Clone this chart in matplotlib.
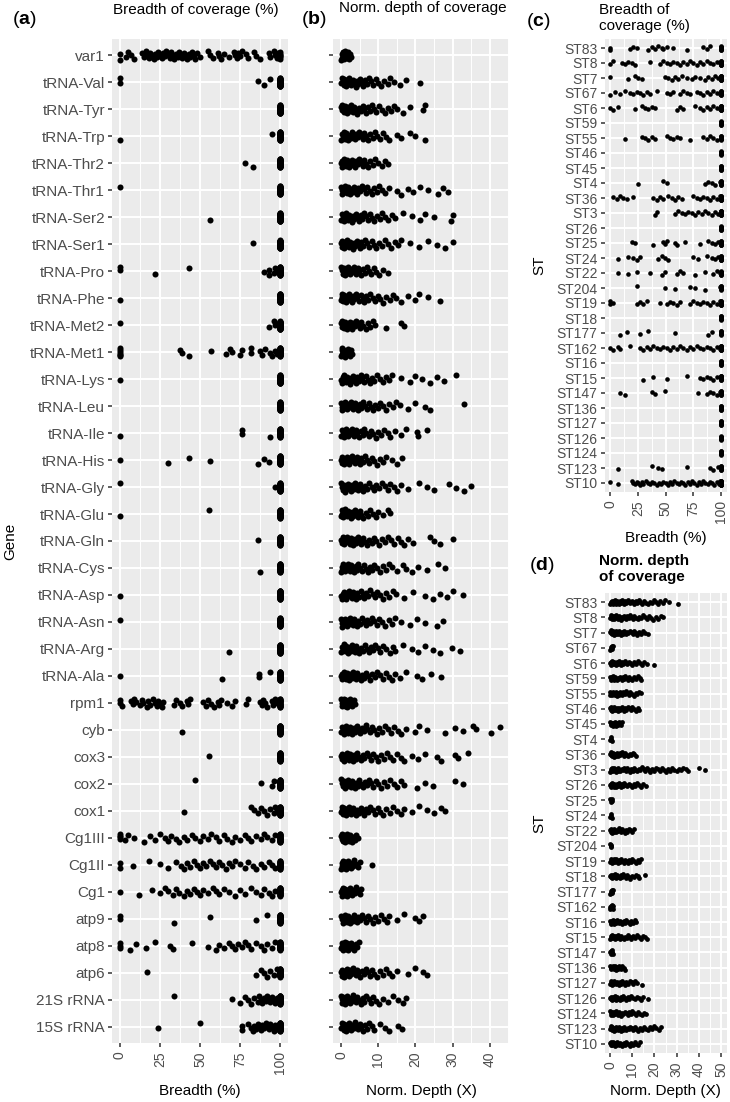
import matplotlib
matplotlib.use("Agg")
import matplotlib.pyplot as plt
from matplotlib.ticker import MultipleLocator
import numpy as np

plt.rcParams['font.family'] = ['Liberation Sans', 'DejaVu Sans']
plt.rcParams['mathtext.fontset'] = 'custom'
plt.rcParams['mathtext.rm'] = 'Liberation Sans'
plt.rcParams['mathtext.bf'] = 'Liberation Sans:bold'

# ---- data -------------------------------------------------------------
genes = ["var1", "tRNA-Val", "tRNA-Tyr", "tRNA-Trp", "tRNA-Thr2", "tRNA-Thr1",
         "tRNA-Ser2", "tRNA-Ser1", "tRNA-Pro", "tRNA-Phe", "tRNA-Met2",
         "tRNA-Met1", "tRNA-Lys", "tRNA-Leu", "tRNA-Ile", "tRNA-His",
         "tRNA-Gly", "tRNA-Glu", "tRNA-Gln", "tRNA-Cys", "tRNA-Asp",
         "tRNA-Asn", "tRNA-Arg", "tRNA-Ala", "rpm1", "cyb", "cox3", "cox2",
         "cox1", "Cg1III", "Cg1II", "Cg1", "atp9", "atp8", "atp6",
         "21S rRNA", "15S rRNA"]

# breadth (%) of isolates below full coverage, per gene
breadth_gene = [
    [0, 0, 3.7, 5, 7, 9, 13.5, 15, 16, 17, 18, 19, 20, 21, 22, 23, 24, 25, 26, 27,
     28, 29, 30, 31, 32, 33, 34, 35, 36, 37, 38, 39, 40, 41, 42, 43, 44, 45, 46,
     47, 48, 50, 55, 56, 58, 61, 62, 63, 65, 68, 71, 72, 73, 74, 75, 76, 79, 80,
     84, 85, 87.5, 93, 94, 96, 97, 98, 99],
    [0, 0, 86, 90, 94],
    [],
    [0, 95],
    [78, 83],
    [0],
    [56],
    [83],
    [0, 0, 22, 43, 90, 93, 93, 96, 97, 98],
    [0],
    [0, 93, 96, 97],
    [0, 0, 0, 0, 0, 0, 37.5, 38.5, 43, 57, 66, 69, 70, 75, 76.5, 82, 82, 87.5,
     88.5, 90.6, 94, 95, 97, 98],
    [0],
    [],
    [0, 76.5, 76.5, 94],
    [0, 30, 43, 56, 86, 90, 93],
    [0, 97],
    [0, 55.6],
    [86],
    [87.5],
    [0],
    [0],
    [68],
    [0, 64, 87, 87, 94],
    [0, 0, 1, 7, 8, 9, 10, 12.5, 13.5, 14.6, 16.7, 17.7, 18.8, 20.8, 21.9, 22.9,
     24, 25, 26, 27, 34, 35, 37.5, 38.5, 41.7, 42.7, 43.8, 52, 54, 55, 57, 59,
     61, 62, 63, 66.7, 70, 72, 79, 80, 87.5, 88.5, 89.6, 90.6, 91.7, 94.8, 95.8,
     96.9, 97.9],
    [39],
    [55.6],
    [47, 88, 95, 96],
    [40, 82, 84, 86, 88, 90, 92, 94, 96, 97, 98],
    [0, 0, 0, 0, 3, 5, 9, 15, 19, 22, 25, 28, 30, 32, 35, 37, 40, 42, 45, 47, 50,
     52, 55, 57, 60, 62, 65, 67, 70, 72, 75, 78, 80, 82, 85, 88, 90, 92, 95, 97],
    [0, 0, 8, 18, 25, 30, 35, 38, 40, 42, 44, 46, 48, 50, 52, 54, 56, 58, 60, 62,
     64, 66, 68, 70, 72, 75, 78, 80, 83, 85, 88, 90, 93, 95, 97],
    [0, 12, 20, 25, 28, 30, 33, 35, 37, 40, 42, 44, 46, 48, 50, 52, 55, 58, 60,
     62, 65, 68, 72, 75, 78, 82, 85, 88, 90, 93, 95, 97],
    [0, 0, 34, 56, 85, 92],
    [0, 0, 0, 6, 10, 16, 22, 31, 33, 45, 55, 60, 62, 65, 68, 70, 72, 74, 76, 78,
     80, 82, 85, 88, 90, 92, 95, 97],
    [17, 85, 88, 90, 92, 94, 96, 98],
    [34, 70, 75, 78, 80, 82, 84, 86, 87, 88, 89, 90, 91, 92, 93, 94, 95, 96, 97, 98],
    [24, 50, 76, 76, 80, 82, 83, 84, 85, 86, 87, 88, 89, 90, 91, 92, 93, 94, 95,
     96, 97, 98],
]
# isolates with 100 % breadth, per gene
full_gene = [6, 30, 30, 30, 30, 30, 30, 30, 30, 30, 30, 30, 30, 30, 30, 30, 30,
             30, 30, 30, 30, 30, 30, 30, 20, 30, 30, 30, 30, 20, 20, 20, 30, 25,
             30, 30, 30]

# normalised depth (X), per gene
depth_gene = [
    [0.1, 0.2, 0.3, 0.5, 0.6, 0.8, 0.9, 1.1, 1.2, 1.4, 1.6, 1.8, 2.0, 2.2, 2.5, 2.8],
    [0.1, 0.3, 0.5, 0.7, 0.9, 1.1, 1.4, 1.6, 1.9, 2.2, 2.5, 2.8, 3.1, 3.5, 3.9, 4.3,
     4.7, 5.1, 5.6, 6.0, 6.5, 7.0, 7.6, 8.1, 8.7, 9.3, 10.0, 10.8, 11.6, 12.5, 13.3,
     14.3, 15.8, 17.6, 21.2],
    [0.1, 0.2, 0.4, 0.6, 0.9, 1.1, 1.4, 1.7, 2.0, 2.3, 2.6, 2.9, 3.3, 3.6, 4.0, 4.4,
     4.9, 5.3, 5.8, 6.2, 6.7, 7.2, 7.8, 8.3, 8.9, 9.5, 10.2, 10.9, 11.7, 12.5, 13.4,
     14.2, 15.1, 16.7, 18.5, 22.0, 22.6],
    [0.1, 0.3, 0.5, 0.7, 0.9, 1.2, 1.4, 1.7, 2.0, 2.3, 2.6, 3.0, 3.3, 3.7, 4.1, 4.5,
     4.9, 5.4, 5.8, 6.3, 6.8, 7.3, 7.9, 8.5, 9.1, 9.8, 10.5, 11.2, 12.0, 12.9, 15.0,
     16.1, 18.5, 20.0, 22.5],
    [0.1, 0.3, 0.4, 0.6, 0.8, 1.0, 1.3, 1.5, 1.8, 2.1, 2.4, 2.7, 3.0, 3.4, 3.7, 4.1,
     4.5, 4.9, 5.4, 5.8, 6.3, 6.8, 7.3, 7.9, 8.5, 9.2, 10.0, 10.9, 11.8, 12.7],
    [0.1, 0.2, 0.4, 0.6, 0.8, 1.1, 1.3, 1.6, 1.9, 2.2, 2.5, 2.8, 3.2, 3.5, 3.9, 4.3,
     4.7, 5.2, 5.6, 6.1, 6.6, 7.1, 7.7, 8.3, 8.9, 9.6, 10.3, 11.1, 11.9, 12.8, 15.0,
     16.0, 18.0, 19.4, 21.2, 23.4, 26.0, 27.5, 28.8],
    [0.1, 0.3, 0.5, 0.7, 0.9, 1.1, 1.4, 1.7, 1.9, 2.2, 2.6, 2.9, 3.2, 3.6, 4.0, 4.4,
     4.8, 5.3, 5.7, 6.2, 6.7, 7.2, 7.8, 8.4, 9.0, 9.7, 10.4, 11.1, 11.9, 12.7, 13.6,
     14.4, 16.7, 19.0, 21.2, 22.5, 25.0, 29.6, 30.1],
    [0.1, 0.2, 0.4, 0.6, 0.8, 1.0, 1.3, 1.5, 1.8, 2.1, 2.4, 2.7, 3.1, 3.4, 3.8, 4.2,
     4.6, 5.1, 5.5, 6.0, 6.5, 7.1, 7.6, 8.2, 8.8, 9.5, 10.2, 11.0, 11.8, 12.6, 13.5,
     14.4, 15.2, 16.0, 18.5, 21.0, 23.4, 25.7, 28.0, 30.0],
    [0.1, 0.3, 0.5, 0.7, 0.9, 1.1, 1.3, 1.6, 1.8, 2.1, 2.4, 2.7, 3.0, 3.4, 3.7, 4.1,
     4.5, 4.9, 5.4, 5.9, 6.4, 6.9, 7.5, 8.1, 8.8, 9.5, 10.3, 11.4, 12.7],
    [0.1, 0.3, 0.4, 0.6, 0.8, 1.1, 1.3, 1.6, 1.9, 2.2, 2.5, 2.9, 3.2, 3.6, 4.0, 4.4,
     4.8, 5.3, 5.8, 6.3, 6.8, 7.3, 7.9, 8.5, 9.2, 9.9, 10.6, 11.4, 12.2, 13.1, 14.0,
     14.9, 16.0, 18.0, 20.0, 21.0, 23.4, 26.6],
    [0.1, 0.2, 0.4, 0.6, 0.8, 1.0, 1.2, 1.5, 1.7, 2.0, 2.3, 2.6, 2.9, 3.3, 3.7, 4.1,
     4.5, 5.0, 5.5, 6.0, 6.6, 7.2, 7.9, 8.6, 9.2, 12.0, 16.0, 17.0],
    [0.1, 0.2, 0.3, 0.4, 0.6, 0.7, 0.9, 1.0, 1.2, 1.4, 1.6, 1.8, 2.0, 2.3, 2.6, 2.9],
    [0.1, 0.3, 0.5, 0.7, 0.9, 1.2, 1.4, 1.7, 2.0, 2.3, 2.6, 2.9, 3.3, 3.6, 4.0, 4.4,
     4.8, 5.3, 5.7, 6.2, 6.7, 7.2, 7.8, 8.4, 9.0, 9.7, 10.4, 11.2, 12.0, 12.9, 13.8,
     16.0, 18.5, 20.0, 21.7, 24.0, 25.7, 27.7, 31.0],
    [0.1, 0.2, 0.4, 0.6, 0.9, 1.1, 1.4, 1.7, 2.0, 2.3, 2.6, 3.0, 3.3, 3.7, 4.1, 4.5,
     5.0, 5.4, 5.9, 6.4, 6.9, 7.4, 8.0, 8.6, 9.2, 9.9, 10.6, 11.4, 12.2, 13.0, 13.9,
     14.8, 15.8, 18.0, 20.0, 22.5, 24.0, 33.0],
    [0.1, 0.3, 0.5, 0.7, 0.9, 1.1, 1.4, 1.6, 1.9, 2.2, 2.5, 2.9, 3.2, 3.6, 4.0, 4.4,
     4.9, 5.3, 5.8, 6.3, 6.8, 7.4, 8.0, 8.6, 9.3, 10.0, 10.8, 11.6, 12.5, 13.3, 14.5,
     16.0, 17.6, 20.3, 20.8, 23.0],
    [0.1, 0.2, 0.4, 0.6, 0.8, 1.0, 1.3, 1.5, 1.8, 2.1, 2.4, 2.7, 3.0, 3.4, 3.8, 4.2,
     4.6, 5.0, 5.5, 6.0, 6.5, 7.0, 7.6, 8.2, 8.9, 9.6, 10.4, 11.2, 12.0, 13.6, 15.0,
     16.3],
    [0.1, 0.3, 0.5, 0.7, 0.9, 1.2, 1.4, 1.7, 2.0, 2.3, 2.7, 3.0, 3.4, 3.8, 4.2, 4.6,
     5.1, 5.5, 6.0, 6.5, 7.1, 7.6, 8.2, 8.8, 9.5, 10.2, 10.9, 11.7, 12.5, 13.3, 14.2,
     15.1, 16.0, 18.0, 21.0, 23.0, 25.0, 29.0, 31.0, 33.0, 35.0],
    [0.1, 0.2, 0.4, 0.6, 0.8, 1.0, 1.2, 1.5, 1.7, 2.0, 2.3, 2.6, 3.0, 3.3, 3.7, 4.1,
     4.5, 5.0, 5.5, 6.0, 6.6, 7.2, 7.9, 8.6, 9.3, 10.0, 11.4, 12.7, 13.1],
    [0.1, 0.3, 0.5, 0.7, 0.9, 1.1, 1.4, 1.7, 2.0, 2.3, 2.6, 3.0, 3.3, 3.7, 4.1, 4.6,
     5.0, 5.5, 6.0, 6.5, 7.0, 7.6, 8.2, 8.8, 9.5, 10.2, 10.9, 11.7, 12.5, 13.4, 14.3,
     15.2, 16.2, 17.0, 18.0, 19.4, 24.0, 25.0, 26.6, 30.0],
    [0.1, 0.2, 0.4, 0.6, 0.8, 1.1, 1.3, 1.6, 1.9, 2.2, 2.5, 2.8, 3.2, 3.5, 3.9, 4.3,
     4.7, 5.2, 5.7, 6.2, 6.7, 7.2, 7.8, 8.4, 9.0, 9.7, 10.4, 11.2, 12.0, 12.9, 13.8,
     15.0, 16.7, 17.6, 19.0, 20.8, 23.0, 26.0, 28.0],
    [0.1, 0.3, 0.5, 0.7, 0.9, 1.1, 1.4, 1.6, 1.9, 2.2, 2.5, 2.9, 3.2, 3.6, 4.0, 4.4,
     4.8, 5.3, 5.8, 6.3, 6.8, 7.3, 7.9, 8.5, 9.1, 9.8, 10.5, 11.3, 12.1, 13.0, 13.9,
     14.8, 17.0, 19.4, 22.5, 24.8, 26.6, 28.4, 30.0, 32.8],
    [0.1, 0.2, 0.4, 0.6, 0.8, 1.0, 1.3, 1.5, 1.8, 2.1, 2.4, 2.8, 3.1, 3.5, 3.9, 4.3,
     4.7, 5.1, 5.6, 6.1, 6.6, 7.1, 7.7, 8.3, 8.9, 9.6, 10.3, 11.1, 11.9, 12.8, 13.7,
     14.5, 16.0, 18.5, 20.3, 22.5, 25.7, 27.5],
    [0.1, 0.3, 0.5, 0.7, 0.9, 1.2, 1.4, 1.7, 2.0, 2.3, 2.6, 3.0, 3.3, 3.7, 4.1, 4.5,
     4.9, 5.4, 5.9, 6.4, 6.9, 7.4, 8.0, 8.6, 9.2, 9.9, 10.6, 11.4, 12.2, 13.1, 14.0,
     14.6, 16.7, 19.0, 20.8, 22.5, 24.8, 26.6, 29.7, 32.0],
    [0.1, 0.2, 0.4, 0.6, 0.9, 1.1, 1.3, 1.6, 1.9, 2.2, 2.5, 2.9, 3.2, 3.6, 4.0, 4.4,
     4.8, 5.3, 5.7, 6.2, 6.7, 7.3, 7.8, 8.4, 9.1, 9.8, 10.5, 11.3, 12.1, 13.0, 13.8,
     14.6, 15.8, 17.6, 20.3, 21.7, 24.3, 26.8],
    [0.1, 0.2, 0.3, 0.5, 0.6, 0.8, 0.9, 1.1, 1.3, 1.5, 1.7, 1.9, 2.1, 2.4, 2.7, 3.0,
     3.4, 3.8],
    [0.1, 0.3, 0.5, 0.7, 0.9, 1.2, 1.4, 1.7, 2.0, 2.3, 2.7, 3.0, 3.4, 3.8, 4.2, 4.6,
     5.1, 5.6, 6.1, 6.6, 7.1, 7.7, 8.3, 8.9, 9.6, 10.3, 11.0, 11.8, 12.6, 13.4, 14.3,
     15.2, 16.2, 17.4, 20.0, 21.0, 23.0, 28.0, 30.6, 32.8, 35.5, 36.4, 40.4, 42.7],
    [0.1, 0.2, 0.4, 0.6, 0.8, 1.1, 1.3, 1.6, 1.9, 2.2, 2.5, 2.9, 3.2, 3.6, 4.0, 4.4,
     4.9, 5.3, 5.8, 6.3, 6.9, 7.4, 8.0, 8.6, 9.3, 10.0, 10.7, 11.5, 12.3, 13.2, 14.1,
     15.0, 16.0, 17.0, 19.0, 20.8, 22.5, 25.7, 27.0, 30.6, 31.5, 34.2],
    [0.1, 0.3, 0.5, 0.7, 0.9, 1.1, 1.4, 1.7, 2.0, 2.3, 2.6, 2.9, 3.3, 3.7, 4.1, 4.5,
     4.9, 5.4, 5.9, 6.4, 6.9, 7.5, 8.1, 8.7, 9.3, 10.0, 10.8, 11.6, 12.4, 13.3, 14.2,
     15.1, 16.0, 17.0, 20.3, 22.5, 24.8, 30.6, 32.8],
    [0.1, 0.2, 0.4, 0.6, 0.8, 1.0, 1.3, 1.6, 1.9, 2.2, 2.5, 2.8, 3.2, 3.6, 4.0, 4.4,
     4.8, 5.3, 5.8, 6.3, 6.8, 7.3, 7.9, 8.5, 9.2, 9.9, 10.6, 11.4, 12.2, 13.1, 14.0,
     15.0, 16.0, 17.0, 19.0, 21.0, 23.0, 25.0, 27.0, 28.0],
    [0.1, 0.2, 0.3, 0.5, 0.6, 0.8, 0.9, 1.1, 1.3, 1.5, 1.7, 1.9, 2.1, 2.4, 2.7, 3.0,
     3.3, 3.7, 4.1, 4.5],
    [0.1, 0.2, 0.4, 0.5, 0.7, 0.8, 1.0, 1.2, 1.4, 1.6, 1.8, 2.0, 2.3, 2.6, 2.9, 3.2,
     3.6, 4.0, 4.5, 5.0, 8.3],
    [0.1, 0.2, 0.3, 0.5, 0.6, 0.8, 1.0, 1.2, 1.4, 1.6, 1.8, 2.1, 2.3, 2.6, 2.9, 3.3,
     3.7, 4.1, 4.6, 5.1, 5.5],
    [0.1, 0.3, 0.5, 0.7, 0.9, 1.1, 1.4, 1.6, 1.9, 2.2, 2.5, 2.8, 3.2, 3.5, 3.9, 4.3,
     4.7, 5.2, 5.7, 6.2, 6.7, 7.3, 7.9, 8.5, 9.2, 9.9, 10.7, 11.5, 12.3, 13.0, 15.0,
     17.0, 20.0, 21.0, 22.0],
    [0.1, 0.2, 0.3, 0.5, 0.6, 0.8, 1.0, 1.1, 1.3, 1.5, 1.7, 2.0, 2.2, 2.5, 2.8, 3.1,
     3.5, 3.9, 4.4, 4.9],
    [0.1, 0.3, 0.4, 0.6, 0.8, 1.1, 1.3, 1.6, 1.8, 2.1, 2.4, 2.8, 3.1, 3.5, 3.9, 4.3,
     4.7, 5.2, 5.6, 6.1, 6.6, 7.2, 7.7, 8.3, 9.0, 9.7, 10.4, 11.2, 12.0, 12.9, 13.8,
     15.0, 18.0, 20.0, 22.0, 23.0],
    [0.1, 0.2, 0.4, 0.6, 0.8, 1.0, 1.2, 1.5, 1.7, 2.0, 2.3, 2.6, 2.9, 3.3, 3.6, 4.0,
     4.4, 4.8, 5.3, 5.8, 6.3, 6.8, 7.4, 8.0, 8.7, 9.4, 10.1, 11.4, 12.7, 14.0, 15.4,
     16.7, 17.6],
    [0.1, 0.3, 0.5, 0.7, 0.9, 1.1, 1.3, 1.6, 1.8, 2.1, 2.4, 2.7, 3.0, 3.4, 3.7, 4.1,
     4.5, 5.0, 5.4, 5.9, 6.4, 7.0, 7.6, 8.2, 8.9, 10.5, 11.8, 13.0, 15.4, 16.3],
]

sts = ["ST83", "ST8", "ST7", "ST67", "ST6", "ST59", "ST55", "ST46", "ST45", "ST4",
       "ST36", "ST3", "ST26", "ST25", "ST24", "ST22", "ST204", "ST19", "ST18",
       "ST177", "ST162", "ST16", "ST15", "ST147", "ST136", "ST127", "ST126",
       "ST124", "ST123", "ST10"]

# breadth (%) below full coverage, per ST
breadth_st = [
    [0, 0, 18, 21, 24, 34.5, 37.5, 40.5, 43.5, 46.5, 48, 51, 57, 69, 84, 87, 90],
    [0, 3, 10.5, 13.5, 16.5, 19.5, 22.5, 36, 45, 48, 51, 54, 57, 60, 63, 66, 69,
     72, 75, 78, 81, 84, 87, 90, 93, 96, 99],
    [0, 16.5, 22.5, 25.5, 28.5, 49.5, 52.5, 55.5, 58.5, 61.5, 64.5, 69, 73.5,
     76.5, 81, 85.5, 88.5, 91.5, 94.5, 97.5],
    [0, 4.5, 9, 13.5, 18, 21, 24, 27, 30, 33, 36, 42, 51, 54, 57, 63, 66, 69, 72,
     78, 81, 84, 87, 90, 93, 96, 99],
    [0, 3, 7.5, 22.5, 28.5, 31.5, 34.5, 37.5, 40.5, 60, 63, 66, 76.5, 81, 84, 87,
     90, 93, 96, 99],
    [],
    [13.5, 28.5, 31.5, 34.5, 37.5, 40.5, 51, 54, 57, 60, 63, 72, 84, 87, 90, 93, 96],
    [],
    [],
    [25.5, 48, 51, 85.5, 88.5, 91.5, 94.5, 99],
    [3, 6, 9, 12, 15, 21, 39, 42, 45, 48, 52.5, 55.5, 58.5, 61.5, 64.5, 75, 78,
     81, 84, 87, 90, 93, 96, 99],
    [40.5, 42, 58.5, 61.5, 64.5, 67.5, 70.5, 73.5, 76.5, 79.5, 82.5, 85.5, 88.5,
     91.5, 94.5, 97.5],
    [],
    [19.5, 22.5, 39, 48, 49.5, 51, 58.5, 60, 67.5, 81, 88.5, 91.5, 94.5, 97.5],
    [7.5, 16.5, 21, 24, 27, 43.5, 46.5, 49.5, 52.5, 75, 79.5, 87, 91.5, 94.5, 97.5],
    [7.5, 16.5, 24, 36, 46.5, 49.5, 60, 63, 66, 76.5, 85.5, 93, 96, 99],
    [24, 49.5, 58.5, 72, 76.5, 85.5, 99],
    [0, 0, 3, 24, 27, 30, 33, 45, 51, 54, 57, 60, 63, 72, 75, 78, 81, 84, 87, 90,
     93, 96, 99],
    [],
    [9, 15, 27, 34.5, 58.5, 88.5, 91.5],
    [0, 3, 7.5, 9, 18, 27, 30, 33, 36, 39, 42, 45, 48, 51, 54, 57, 60, 63, 66, 69,
     72, 75, 78, 81, 84, 87, 90, 93, 96, 99],
    [],
    [30, 39, 51, 69, 81, 84, 87, 90, 93, 96],
    [9, 13.5, 37.5, 40.5, 49.5, 79.5, 87, 90, 93, 96, 99],
    [],
    [],
    [],
    [],
    [7.5, 37.5, 43.5, 46.5, 69, 90, 93, 97.5],
    [0, 7.5, 19.5, 21, 22.5, 24, 25.5, 27, 28.5, 30, 32, 34, 36, 38, 40, 42, 44,
     46, 48, 50, 52, 54, 56, 58, 60, 62, 64, 66, 68, 70, 72, 74, 76, 78, 80, 82,
     84, 86, 88, 90, 92, 94, 96, 98, 99],
]
full_st = [12, 20, 20, 15, 20, 12, 12, 12, 12, 12, 20, 20, 12, 15, 15, 15, 10,
           20, 12, 10, 20, 12, 15, 12, 12, 12, 12, 12, 12, 25]

# normalised depth (X), per ST
depth_st = [
    [0.1, 0.3, 0.5, 0.8, 1.0, 1.3, 1.6, 1.9, 2.2, 2.6, 2.9, 3.3, 3.7, 4.1, 4.5, 5.0,
     5.4, 5.9, 6.4, 6.9, 7.4, 8.0, 8.5, 9.1, 9.7, 10.3, 11.0, 11.6, 12.3, 13.0, 13.7,
     14.5, 15.3, 16.1, 17.0, 17.8, 18.7, 19.6, 20.6, 21.6, 22.6, 23.7, 24.8, 26.8,
     30.5],
    [0.1, 0.3, 0.6, 0.8, 1.1, 1.4, 1.7, 2.0, 2.4, 2.7, 3.1, 3.5, 3.9, 4.3, 4.8, 5.2,
     5.7, 6.2, 6.7, 7.3, 7.8, 8.4, 9.0, 9.6, 10.3, 11.0, 11.7, 12.4, 13.2, 14.0,
     14.8, 15.7, 16.6, 17.5, 18.5, 19.5, 20.6, 21.7, 22.9, 24.0],
    [0.1, 0.3, 0.5, 0.8, 1.0, 1.3, 1.6, 1.9, 2.2, 2.5, 2.9, 3.2, 3.6, 4.0, 4.4, 4.8,
     5.3, 5.7, 6.2, 6.7, 7.2, 7.8, 8.3, 8.9, 9.5, 10.2, 10.9, 11.6, 12.3, 13.1, 13.9,
     14.8, 15.8, 16.9],
    [0.1, 0.3, 0.5, 0.7, 0.9, 1.1, 1.4],
    [0.1, 0.3, 0.6, 0.8, 1.1, 1.4, 1.7, 2.0, 2.4, 2.8, 3.2, 3.6, 4.0, 4.5, 5.0, 5.5,
     6.0, 6.6, 7.2, 7.8, 8.5, 9.2, 10.0, 10.8, 11.6, 12.5, 13.4, 14.4, 15.4, 16.5,
     20.0],
    [0.1, 0.3, 0.5, 0.8, 1.0, 1.3, 1.6, 1.9, 2.3, 2.6, 3.0, 3.4, 3.8, 4.3, 4.7, 5.2,
     5.7, 6.2, 6.8, 7.4, 8.0, 8.7, 9.4, 10.1, 10.9, 11.7, 12.5, 13.3, 14.0],
    [0.1, 0.2, 0.5, 0.7, 1.0, 1.2, 1.5, 1.8, 2.1, 2.5, 2.8, 3.2, 3.6, 4.1, 4.5, 5.0,
     5.5, 6.0, 6.6, 7.2, 7.8, 8.5, 9.2, 9.9, 10.7, 11.5, 12.3, 13.1, 13.9],
    [0.1, 0.3, 0.5, 0.8, 1.0, 1.3, 1.6, 1.9, 2.2, 2.6, 3.0, 3.4, 3.8, 4.2, 4.7, 5.2,
     5.7, 6.2, 6.8, 7.4, 8.0, 8.7, 9.4, 10.1, 10.9, 11.7, 12.5, 13.0],
    [0.1, 0.3, 0.5, 0.7, 1.0, 1.2, 1.5, 1.8, 2.1, 2.4, 2.8, 3.2, 3.6, 4.0, 4.5, 5.0,
     5.6],
    [0.1, 0.3, 0.5, 0.7],
    [0.1, 0.3, 0.5, 0.8, 1.0, 1.3, 1.6, 1.9, 2.3, 2.6, 3.0, 3.4, 3.8, 4.3, 4.7, 5.2,
     5.7, 6.3, 6.9, 7.5, 8.1, 8.8, 9.5, 10.2, 10.9, 11.6],
    [0.1, 0.3, 0.6, 0.9, 1.2, 1.5, 1.9, 2.2, 2.6, 3.0, 3.4, 3.8, 4.3, 4.7, 5.2, 5.7,
     6.2, 6.7, 7.3, 7.8, 8.4, 9.0, 9.6, 10.2, 10.9, 11.5, 12.2, 12.9, 13.6, 14.3,
     15.1, 15.8, 16.6, 17.4, 18.2, 19.0, 19.9, 20.7, 21.6, 22.5, 23.4, 24.3, 25.2,
     26.1, 27.1, 28.0, 29.0, 30.0, 31.0, 32.0, 33.1, 34.2, 35.3, 40.0, 43.0],
    [0.1, 0.3, 0.5, 0.8, 1.0, 1.3, 1.6, 2.0, 2.3, 2.7, 3.1, 3.5, 3.9, 4.4, 4.9, 5.4,
     5.9, 6.5, 7.1, 7.7, 8.4, 9.1, 9.8, 10.6, 11.4, 12.3, 13.2, 14.1, 15.0, 16.0],
    [0.1, 0.3, 0.5, 0.7, 0.9],
    [0.1, 0.3, 0.5, 0.7],
    [0.1, 0.3, 0.5, 0.8, 1.0, 1.3, 1.6, 1.9, 2.3, 2.7, 3.1, 3.5, 4.0, 4.4, 4.9, 5.4,
     6.0, 6.6, 7.2, 7.8, 8.5, 9.2, 10.0, 10.8],
    [0.1, 0.3, 0.5, 0.6],
    [0.1, 0.3, 0.5, 0.8, 1.1, 1.4, 1.7, 2.0, 2.4, 2.8, 3.2, 3.6, 4.1, 4.5, 5.0, 5.5,
     6.1, 6.7, 7.3, 7.9, 8.6, 9.3, 10.0, 10.8, 11.6, 12.4, 13.2, 14.0],
    [0.1, 0.3, 0.6, 0.8, 1.1, 1.4, 1.8, 2.1, 2.5, 2.9, 3.3, 3.8, 4.3, 4.8, 5.3, 5.9,
     6.5, 7.1, 7.8, 8.5, 9.2, 10.0, 10.8, 11.6, 12.4, 13.1, 15.6],
    [0.1, 0.3, 0.5, 0.7, 0.9, 1.1, 1.3],
    [0.1, 0.2, 0.4, 0.6, 0.8, 1.0, 1.2, 1.4],
    [0.1, 0.3, 0.5, 0.8, 1.0, 1.3, 1.7, 2.0, 2.4, 2.8, 3.2, 3.6, 4.1, 4.6, 5.1, 5.6,
     6.2, 6.8, 7.4, 8.1, 8.8, 9.5, 10.3, 11.1, 11.9],
    [0.1, 0.3, 0.6, 0.8, 1.1, 1.4, 1.7, 2.1, 2.4, 2.8, 3.2, 3.7, 4.1, 4.6, 5.1, 5.7,
     6.3, 6.9, 7.5, 8.2, 8.9, 9.6, 10.4, 11.2, 12.0, 12.9, 13.8, 14.8, 15.8, 16.5],
    [0.1, 0.3, 0.5, 0.7, 0.9, 1.1, 1.3],
    [0.1, 0.3, 0.5, 0.7, 1.0, 1.2, 1.5, 1.8, 2.1, 2.5, 2.8, 3.2, 3.6, 4.0, 4.5, 5.0,
     5.5, 6.1, 6.7],
    [0.1, 0.3, 0.6, 0.8, 1.1, 1.5, 1.8, 2.2, 2.6, 3.0, 3.4, 3.9, 4.4, 4.9, 5.5, 6.1,
     6.7, 7.4, 8.1, 8.9, 9.7, 10.5, 11.3, 12.1, 14.6],
    [0.1, 0.3, 0.5, 0.8, 1.1, 1.4, 1.7, 2.1, 2.5, 2.9, 3.3, 3.8, 4.3, 4.8, 5.4, 6.0,
     6.6, 7.3, 8.0, 8.7, 9.5, 10.3, 11.1, 12.0, 12.9, 13.8, 14.8, 17.0],
    [0.1, 0.4, 0.6, 0.9, 1.2, 1.5, 1.8, 2.2, 2.6, 3.0, 3.4, 3.9, 4.4, 4.9, 5.4, 6.0,
     6.6, 7.2, 7.9, 8.6, 9.3, 10.1, 10.9, 11.8, 12.7, 13.6, 14.5, 15.5, 16.4],
    [0.1, 0.3, 0.5, 0.8, 1.1, 1.4, 1.7, 2.0, 2.4, 2.7, 3.1, 3.5, 3.9, 4.4, 4.8, 5.3,
     5.8, 6.3, 6.8, 7.4, 8.0, 8.6, 9.2, 9.8, 10.5, 11.2, 11.9, 12.7, 13.5, 14.3,
     15.1, 16.0, 16.9, 17.8, 18.8, 19.8, 20.8, 21.9, 23.0],
    [0.1, 0.3, 0.6, 0.8, 1.1, 1.4, 1.7, 2.1, 2.4, 2.8, 3.2, 3.6, 4.1, 4.6, 5.1, 5.6,
     6.2, 6.8, 7.4, 8.1, 8.8, 9.5, 10.3, 11.1, 11.9, 12.8, 13.7],
]

# ---- drawing ------------------------------------------------------------
W, H = 730, 1102
BG = "#EBEBEB"
TICK_COL = "#333333"
LAB_COL = "#4D4D4D"


def px_rect(x0, y0, x1, y1):
    """Axes rectangle in figure fractions from pixel box (top-left origin)."""
    return [x0 / W, 1 - y1 / H, (x1 - x0) / W, (y1 - y0) / H]


def px_text(fig, x, y, s, **kw):
    fig.text(x / W, 1 - y / H, s, **kw)


def strip(ax, rows, half_height, size):
    n = len(rows)
    for i, vals in enumerate(rows):
        if len(vals) == 0:
            continue
        k = np.arange(len(vals))
        offs = half_height * (2 * ((k * 0.618034 + 0.37 * i) % 1.0) - 1)
        ax.scatter(vals, np.full(len(vals), n - 1 - i) + offs, s=size,
                   c="black", linewidths=0, zorder=3)


def style_panel(ax, cats, xlim, major, minor, show_labels=True, ysize=10):
    n = len(cats)
    ax.set_facecolor(BG)
    ax.set_xlim(*xlim)
    ax.set_ylim(-0.6, n - 0.4)
    ax.xaxis.set_major_locator(MultipleLocator(major))
    ax.xaxis.set_minor_locator(MultipleLocator(minor))
    ax.set_yticks(range(n))
    ax.set_yticklabels(cats[::-1] if show_labels else [""] * n)
    ax.grid(which="major", color="white", linewidth=1.4)
    ax.grid(which="minor", axis="x", color="white", linewidth=0.7)
    ax.set_axisbelow(True)
    for sp in ax.spines.values():
        sp.set_visible(False)
    ax.tick_params(which="minor", length=0)
    ax.tick_params(which="major", length=3, width=1.1, color=TICK_COL,
                   labelcolor=LAB_COL)
    ax.tick_params(axis="x", labelrotation=90, labelsize=10, pad=3)
    ax.tick_params(axis="y", labelsize=ysize, pad=2)


fig = plt.figure(figsize=(W / 100, H / 100), dpi=100)

ax_a = fig.add_axes(px_rect(112, 39, 288, 1043))
ax_b = fig.add_axes(px_rect(333, 39, 509, 1043))
ax_c = fig.add_axes(px_rect(604.5, 39, 726.5, 492))
ax_d = fig.add_axes(px_rect(604.5, 593, 726.5, 1053))

rows_a = [vals + [100] * cnt for vals, cnt in zip(breadth_gene, full_gene)]
rows_c = [vals + [100] * cnt for vals, cnt in zip(breadth_st, full_st)]

style_panel(ax_a, genes, (-5, 105), 25, 12.5, ysize=11)
strip(ax_a, rows_a, 0.16, 19)

style_panel(ax_b, genes, (-2.15, 45.15), 10, 5, show_labels=False)
strip(ax_b, depth_gene, 0.17, 19)

style_panel(ax_c, sts, (-5, 105), 25, 12.5)
strip(ax_c, rows_c, 0.14, 11)

style_panel(ax_d, sts, (-2.5, 52.5), 10, 5)
strip(ax_d, depth_st, 0.15, 12)

# panel tags
tag_kw = dict(fontsize=14, ha="left", va="center", color="black")
px_text(fig, 12, 19, r"($\mathbf{a}$)", **tag_kw)
px_text(fig, 301, 19, r"($\mathbf{b}$)", **tag_kw)
px_text(fig, 526, 21, r"($\mathbf{c}$)", **tag_kw)
px_text(fig, 529, 565, r"($\mathbf{d}$)", **tag_kw)

# titles
px_text(fig, 113, 10, "Breadth of coverage (%)", fontsize=11, ha="left", va="center")
px_text(fig, 339, 8, "Norm. depth of coverage", fontsize=11, ha="left", va="center")
px_text(fig, 599, 18, "Breadth of\ncoverage (%)", fontsize=11, ha="left",
        va="center", linespacing=1.1)
px_text(fig, 599, 569, "Norm. depth\nof coverage", fontsize=11, ha="left",
        va="center", linespacing=1.1, fontweight="bold")

# axis titles
px_text(fig, 200, 1091, "Breadth (%)", fontsize=11, ha="center", va="center")
px_text(fig, 421, 1091, "Norm. Depth (X)", fontsize=11, ha="center", va="center")
px_text(fig, 665.5, 538, "Breadth (%)", fontsize=11, ha="center", va="center")
px_text(fig, 665.5, 1091, "Norm. Depth (X)", fontsize=11, ha="center", va="center")
px_text(fig, 10, 541, "Gene", fontsize=11, ha="center", va="center", rotation=90)
px_text(fig, 539, 265, "ST", fontsize=11, ha="center", va="center", rotation=90)
px_text(fig, 539, 823, "ST", fontsize=11, ha="center", va="center", rotation=90)

fig.savefig("out.png", dpi=100)
